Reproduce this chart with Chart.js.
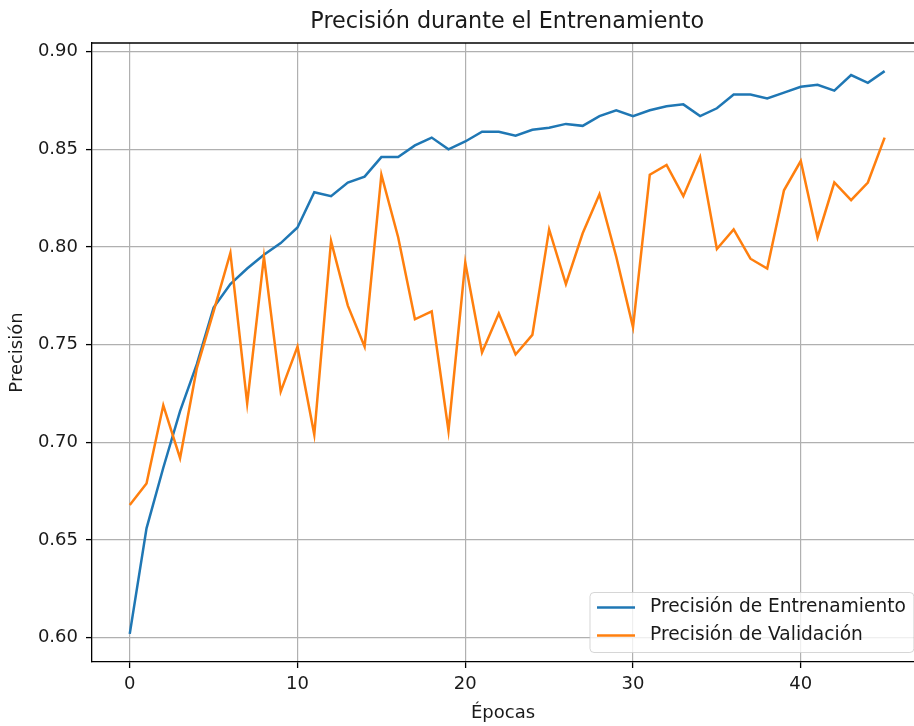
<!DOCTYPE html>
<html>
<head>
<meta charset="utf-8">
<title>Precisión durante el Entrenamiento</title>
<script src="https://cdn.jsdelivr.net/npm/chart.js@4/dist/chart.umd.min.js"></script>
<style>
  html, body { margin: 0; padding: 0; background: #fff; overflow: hidden; }
  #wrap { width: 914px; height: 726px; position: relative; }
</style>
</head>
<body>
<div id="wrap"><canvas id="accChart" width="914" height="726"></canvas></div>
<script>
// epochs 0..45
let epochs = [];
for (let i = 0; i < 46; i++) epochs.push(i);

let trainAcc = [0.602, 0.656, 0.687, 0.716, 0.740, 0.769, 0.781, 0.789, 0.796, 0.802,
                0.810, 0.828, 0.826, 0.833, 0.836, 0.846, 0.846, 0.852, 0.856, 0.850,
                0.854, 0.859, 0.859, 0.857, 0.860, 0.861, 0.863, 0.862, 0.867, 0.870,
                0.867, 0.870, 0.872, 0.873, 0.867, 0.871, 0.878, 0.878, 0.876, 0.879,
                0.882, 0.883, 0.880, 0.888, 0.884, 0.890];

let valAcc = [0.668, 0.679, 0.719, 0.692, 0.738, 0.767, 0.797, 0.720, 0.795, 0.726,
              0.749, 0.704, 0.803, 0.770, 0.749, 0.837, 0.805, 0.763, 0.767, 0.706,
              0.792, 0.746, 0.766, 0.745, 0.755, 0.809, 0.781, 0.807, 0.827, 0.795,
              0.759, 0.837, 0.842, 0.826, 0.846, 0.799, 0.809, 0.794, 0.789, 0.829,
              0.844, 0.805, 0.833, 0.824, 0.833, 0.856];

let xTicks = [0, 10, 20, 30, 40];
let yTicks = [0.60, 0.65, 0.70, 0.75, 0.80, 0.85, 0.90];

let titleText = "Precisión durante el Entrenamiento";
let FONT = "'DejaVu Sans', sans-serif";
let TEXT = "#1a1a1a";

// full x range of the axes (right part runs off the page)
let xMin = -2.25, xMaxFull = 47.25, xMaxShown = 46.75;

function pts(arr) {
  return arr.map(function (v, i) { return { x: epochs[i], y: v }; });
}

// title, top spine and legend drawn by hand
let extrasPlugin = {
  id: "extras",
  afterDraw: function (chart) {
    let ctx = chart.ctx;
    let area = chart.chartArea;
    let xs = chart.scales.x;
    let fullRight = xs.getPixelForValue(xMaxFull);

    ctx.save();
    // top spine
    ctx.strokeStyle = "#000";
    ctx.lineWidth = 1.3;
    ctx.beginPath();
    ctx.moveTo(area.left, area.top);
    ctx.lineTo(area.right, area.top);
    ctx.stroke();

    // title centred on the axes
    ctx.fillStyle = TEXT;
    ctx.font = "22.3px " + FONT;
    ctx.textAlign = "center";
    ctx.textBaseline = "middle";
    ctx.fillText(titleText, xs.getPixelForValue((xMin + xMaxFull) / 2), 22);

    // legend, lower right
    let ds = chart.data.datasets;
    ctx.font = "18.6px " + FONT;
    let w = 0;
    ds.forEach(function (d) { w = Math.max(w, ctx.measureText(d.label).width); });
    let boxW = 7 + 38 + 15 + w + 8;
    let boxH = 60;
    let right = fullRight - 8.5;
    let bottom = area.bottom - 9.5;
    let left = right - boxW;
    let top = bottom - boxH;

    ctx.fillStyle = "rgba(255,255,255,0.8)";
    ctx.strokeStyle = "rgba(204,204,204,0.8)";
    ctx.lineWidth = 1;
    ctx.beginPath();
    ctx.roundRect(left, top, boxW, boxH, 4);
    ctx.fill();
    ctx.stroke();

    ds.forEach(function (d, i) {
      let y = top + 15 + i * 28;
      ctx.strokeStyle = d.borderColor;
      ctx.lineWidth = 2.5;
      ctx.beginPath();
      ctx.moveTo(left + 7, y);
      ctx.lineTo(left + 45, y);
      ctx.stroke();
      ctx.fillStyle = TEXT;
      ctx.textAlign = "left";
      ctx.textBaseline = "middle";
      ctx.fillText(d.label, left + 60, y);
    });
    ctx.restore();
  }
};

let ctx = document.getElementById("accChart").getContext("2d");
let chart = new Chart(ctx, {
  type: "line",
  data: {
    datasets: [{
      label: "Precisión de Entrenamiento",
      data: pts(trainAcc),
      borderColor: "#1f77b4",
      borderWidth: 2.5,
      pointRadius: 0,
      tension: 0,
      order: 1
    }, {
      label: "Precisión de Validación",
      data: pts(valAcc),
      borderColor: "#ff7f0e",
      borderWidth: 2.5,
      pointRadius: 0,
      tension: 0,
      order: 0
    }]
  },
  options: {
    responsive: false,
    animation: false,
    layout: { padding: { top: 43, right: 0, bottom: 0, left: 0 } },
    plugins: {
      legend: { display: false },
      tooltip: { enabled: false },
      title: { display: false }
    },
    scales: {
      x: {
        type: "linear",
        min: xMin,
        max: xMaxShown,
        afterFit: function (scale) { scale.height = 64; },
        afterBuildTicks: function (scale) {
          scale.ticks = xTicks.map(function (v) { return { value: v }; });
        },
        ticks: {
          color: TEXT,
          font: { family: FONT, size: 18 },
          padding: 6,
          maxRotation: 0,
          callback: function (v) { return String(v); }
        },
        grid: {
          color: "#b0b0b0",
          lineWidth: 1.2,
          tickColor: "#000",
          tickLength: 6,
          tickWidth: 1.3
        },
        border: { color: "#000", width: 1.3 },
        title: {
          display: true,
          text: "Épocas",
          color: TEXT,
          font: { family: FONT, size: 18 },
          padding: { top: 0, bottom: 2 }
        }
      },
      y: {
        type: "linear",
        min: 0.5876,
        max: 0.9044,
        afterFit: function (scale) { scale.width = 92; },
        afterBuildTicks: function (scale) {
          scale.ticks = yTicks.map(function (v) { return { value: v }; });
        },
        ticks: {
          color: TEXT,
          font: { family: FONT, size: 18 },
          padding: 8,
          callback: function (v) { return v.toFixed(2); }
        },
        grid: {
          color: "#b0b0b0",
          lineWidth: 1.2,
          tickColor: "#000",
          tickLength: 6,
          tickWidth: 1.3
        },
        border: { color: "#000", width: 1.3 },
        title: {
          display: true,
          text: "Precisión",
          color: TEXT,
          font: { family: FONT, size: 18 },
          padding: { top: 7, bottom: 0 }
        }
      }
    }
  },
  plugins: [extrasPlugin]
});
</script>
</body>
</html>
